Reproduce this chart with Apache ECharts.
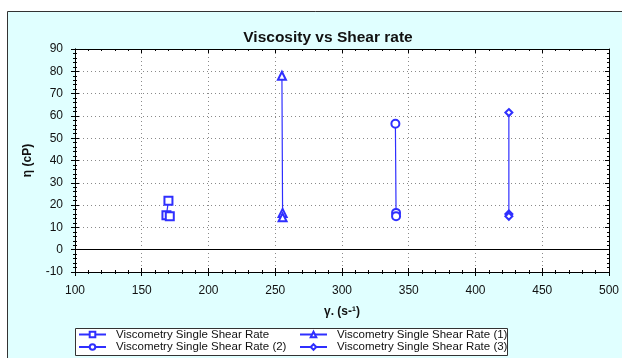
<!DOCTYPE html>
<html>
<head>
<meta charset="utf-8">
<title>Viscosity vs Shear rate</title>
<script src="https://cdn.jsdelivr.net/npm/echarts@6/dist/echarts.min.js"></script>
<style>
  html, body { margin: 0; padding: 0; background: #ffffff; }
  #chart { width: 622px; height: 358px; }
</style>
</head>
<body>
<div id="chart"></div>
<script>
// Shear rate (s-1) / viscosity (cP) readings per single-shear-rate run
const seriesNames = [
  'Viscometry Single Shear Rate',
  'Viscometry Single Shear Rate (1)',
  'Viscometry Single Shear Rate (2)',
  'Viscometry Single Shear Rate (3)'
];
const shearRun0 = [170, 168.5, 171];
const viscRun0 = [22, 15.5, 15];
const shearRun1 = [255, 255.5, 255.5];
const viscRun1 = [78, 16.5, 14.5];
const shearRun2 = [340, 340.5, 340.5];
const viscRun2 = [56.5, 16.5, 15];
const shearRun3 = [425, 425, 425];
const viscRun3 = [61.5, 16, 15];
const symbols = ['emptyRect', 'emptyTriangle', 'emptyCircle', 'emptyDiamond'];

const xTicks = { min: 100, max: 500, interval: 50 };
const yTicks = { min: -10, max: 90, interval: 10 };

const FONT = '"Liberation Sans", Arial, sans-serif';
const BLUE = '#2f2fff';
const AXIS = '#000000';

function pairs(xs, ys) { return xs.map((x, i) => [x, ys[i]]); }
const runs = [
  pairs(shearRun0, viscRun0),
  pairs(shearRun1, viscRun1),
  pairs(shearRun2, viscRun2),
  pairs(shearRun3, viscRun3)
];

const chart = echarts.init(document.getElementById('chart'), null, { renderer: 'canvas' });

function baseAxis(extra) {
  return Object.assign({
    type: 'value',
    axisLine: { show: true, onZero: false, lineStyle: { color: AXIS, width: 1 } },
    splitLine: { show: false },
    axisLabel: { show: false },
    minorTick: { show: true, splitNumber: 5, length: 2, lineStyle: { color: AXIS } },
    axisTick: { show: true, length: 4, lineStyle: { color: AXIS } }
  }, extra);
}

const xMain = baseAxis(Object.assign({}, xTicks, {
  position: 'bottom',
  name: 'γ. (s-¹)',
  nameLocation: 'middle',
  nameGap: 34,
  nameTextStyle: { fontFamily: FONT, fontSize: 12, fontWeight: 'bold', color: '#111' },
  axisLabel: { show: true, margin: 13, fontFamily: FONT, fontSize: 12, color: '#111' },
  splitLine: { show: true, lineStyle: { color: '#8a8a8a', type: [1, 3], width: 1 } }
}));
const xInner = baseAxis(Object.assign({}, xTicks, { position: 'bottom', axisTick: { show: true, inside: true, length: 4, lineStyle: { color: AXIS } }, minorTick: { show: true, splitNumber: 5, length: 2, lineStyle: { color: AXIS } } }));
xInner.minorTick.inside = true;
const xTop = baseAxis(Object.assign({}, xTicks, { position: 'top', axisTick: { show: true, inside: true, length: 4, lineStyle: { color: AXIS } } }));

const yMain = baseAxis(Object.assign({}, yTicks, {
  position: 'left',
  name: 'η (cP)',
  nameLocation: 'middle',
  nameGap: 41,
  nameTextStyle: { fontFamily: FONT, fontSize: 12, fontWeight: 'bold', color: '#111' },
  axisLabel: { show: true, margin: 12, fontFamily: FONT, fontSize: 12, color: '#111' },
  splitLine: { show: true, lineStyle: { color: '#8a8a8a', type: [1, 3], width: 1 } }
}));
const yInner = baseAxis(Object.assign({}, yTicks, { position: 'left', axisTick: { show: true, inside: true, length: 4, lineStyle: { color: AXIS } } }));
const yRight = baseAxis(Object.assign({}, yTicks, { position: 'right', axisTick: { show: true, inside: true, length: 4, lineStyle: { color: AXIS } } }));

// legend entries laid out as a 2 x 2 block
const legendSlots = [
  { left: 78, top: 328.5 },
  { left: 299, top: 328.5 },
  { left: 78, top: 341 },
  { left: 299, top: 341 }
];
const legendOrder = [0, 1, 2, 3];

const option = {
  animation: false,
  backgroundColor: '#ffffff',
  textStyle: { fontFamily: FONT },
  graphic: [
    {
      type: 'rect', z: -10, silent: true,
      shape: { x: 7.5, y: 11.5, width: 700, height: 400 },
      style: { fill: '#e0ffff', stroke: '#333333', lineWidth: 1 }
    },
    {
      type: 'rect', z: 1, silent: true,
      shape: { x: 75.5, y: 328.5, width: 432, height: 27 },
      style: { fill: '#ffffff', stroke: '#333333', lineWidth: 1 }
    }
  ],
  title: {
    text: 'Viscosity vs Shear rate',
    left: 323,
    top: 25,
    textAlign: 'center',
    textStyle: { fontFamily: FONT, fontSize: 15.5, fontWeight: 'bold', color: '#111' }
  },
  grid: {
    left: 75, top: 49, right: 10, bottom: 86,
    show: true, backgroundColor: '#ffffff', borderWidth: 0
  },
  xAxis: [xMain, xInner, xTop],
  yAxis: [yMain, yInner, yRight],
  legend: legendOrder.map((idx, k) => ({
    data: [seriesNames[idx]],
    left: legendSlots[k].left,
    top: legendSlots[k].top,
    padding: 0,
    itemWidth: 27,
    itemHeight: 7,
    z: 5,
    itemStyle: { borderWidth: 1 },
    textStyle: { fontFamily: FONT, fontSize: 11.5, color: '#111', padding: [0, 0, 0, 5] }
  })),
  series: runs.map((data, i) => ({
    name: seriesNames[i],
    type: 'line',
    xAxisIndex: 0,
    yAxisIndex: 0,
    data: data,
    symbol: symbols[i],
    symbolSize: i === 3 ? 7 : 8,
    showAllSymbol: true,
    lineStyle: { color: BLUE, width: 1.2 },
    itemStyle: { color: BLUE, borderColor: BLUE, borderWidth: 1.2 },
    z: 3,
    markLine: i === 0 ? {
      silent: true,
      symbol: 'none',
      label: { show: false },
      lineStyle: { color: '#000000', type: 'solid', width: 1 },
      data: [{ yAxis: 0 }]
    } : undefined
  }))
};

chart.setOption(option);
</script>
</body>
</html>
